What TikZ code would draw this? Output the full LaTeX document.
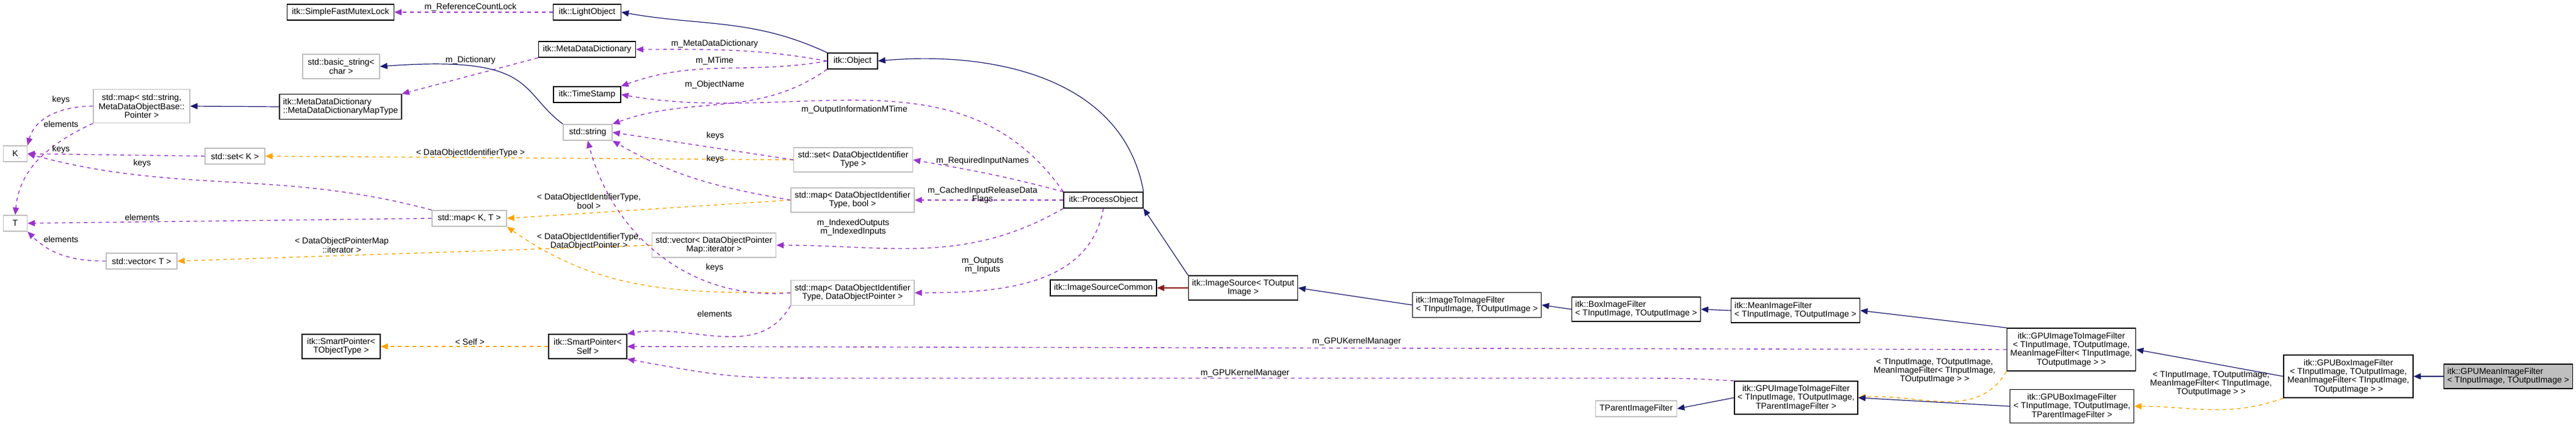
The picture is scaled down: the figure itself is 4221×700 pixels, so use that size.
\documentclass[tikz,border=0pt]{standalone}
\usepackage{fontspec}
\setmainfont{Liberation Sans}
\usetikzlibrary{arrows.meta}
\definecolor{inh}{HTML}{191970}
\definecolor{use}{HTML}{9A32CD}
\definecolor{tpl}{HTML}{FFA500}
\definecolor{prv}{HTML}{8B1A1A}
\definecolor{gb}{HTML}{BFBFBF}
\tikzset{
 bx/.style={draw=black,line width=0.7pt,fill=white,align=center,inner sep=1pt,font=\fontsize{7}{7.2}\selectfont},
 gbx/.style={bx,draw=gb},
 lbl/.style={align=center,font=\fontsize{7}{7.2}\selectfont,inner sep=0pt},
 ah/.style={-{Triangle[length=6pt,width=5pt]}},
 inhe/.style={ah,draw=inh,line width=0.6pt},
 usee/.style={ah,draw=use,line width=0.7pt,dash pattern=on 3pt off 3pt},
 tple/.style={ah,draw=tpl,line width=0.7pt,dash pattern=on 3pt off 3pt},
 prve/.style={ah,draw=prv,line width=0.7pt},
}
\begin{document}
\begin{tikzpicture}[x=0.5pt,y=-0.5pt]
\useasboundingbox (0,0) rectangle (4221,700);
% nodes
\node[bx,minimum width=87.5pt,minimum height=13pt] (mutex) at (558,20) {itk::SimpleFastMutexLock};
\node[gbx,minimum width=63pt,minimum height=20pt] (bstr) at (559,109) {std::basic\_string<\\ char >};
\node[bx,minimum width=100pt,minimum height=20.5pt,align=left] (maptype) at (558,175) {itk::MetaDataDictionary\\::MetaDataDictionaryMapType};
\node[gbx,minimum width=79pt,minimum height=27.5pt] (mapstr) at (232,174) {std::map< std::string,\\ MetaDataObjectBase::\\Pointer >};
\node[gbx,minimum width=19.5pt,minimum height=13pt] (K) at (25,252) {K};
\node[gbx,minimum width=19.5pt,minimum height=13pt] (T) at (25,366) {T};
\node[gbx,minimum width=49pt,minimum height=13pt] (setK) at (385,256) {std::set< K >};
\node[gbx,minimum width=58pt,minimum height=13pt] (vecT) at (232,428) {std::vector< T >};
\node[gbx,minimum width=61pt,minimum height=13pt] (mapKT) at (769,358) {std::map< K, T >};
\node[bx,minimum width=64pt,minimum height=20pt] (spT) at (559,568) {itk::SmartPointer<\\ TObjectType >};
\node[bx,minimum width=64pt,minimum height=20pt] (spS) at (963,568) {itk::SmartPointer<\\ Self >};
\node[bx,minimum width=55.5pt,minimum height=13pt] (light) at (962,20) {itk::LightObject};
\node[bx,minimum width=79.5pt,minimum height=13pt] (mdd) at (962,81) {itk::MetaDataDictionary};
\node[bx,minimum width=55pt,minimum height=13pt] (ts) at (962,155) {itk::TimeStamp};
\node[gbx,minimum width=40pt,minimum height=13pt] (str) at (963,217) {std::string};
\node[bx,minimum width=41pt,minimum height=13pt] (obj) at (1397,100) {itk::Object};
\node[gbx,minimum width=97.5pt,minimum height=20pt] (setD) at (1398,262) {std::set< DataObjectIdentifier\\ Type >};
\node[gbx,minimum width=101pt,minimum height=20pt] (mapDb) at (1397,328) {std::map< DataObjectIdentifier\\ Type, bool >};
\node[gbx,minimum width=101.5pt,minimum height=20pt] (vecD) at (1170,402) {std::vector< DataObjectPointer\\ Map::iterator >};
\node[gbx,minimum width=101pt,minimum height=20.5pt] (mapDP) at (1397,480) {std::map< DataObjectIdentifier\\ Type, DataObjectPointer >};
\node[bx,minimum width=65pt,minimum height=13pt] (po) at (1808,328) {itk::ProcessObject};
\node[bx,minimum width=87pt,minimum height=13pt] (isc) at (1808,472) {itk::ImageSourceCommon};
\node[bx,minimum width=89.5pt,minimum height=20pt] (is) at (2037,472) {itk::ImageSource< TOutput\\ Image >};
\node[bx,minimum width=105.5pt,minimum height=20.5pt,align=left] (itif) at (2420,500) {itk::ImageToImageFilter\\< TInputImage, TOutputImage >};
\node[bx,minimum width=105.5pt,minimum height=20pt,align=left] (box) at (2681,507) {itk::BoxImageFilter\\< TInputImage, TOutputImage >};
\node[bx,minimum width=105.5pt,minimum height=20pt,align=left] (mean) at (2942,509) {itk::MeanImageFilter\\< TInputImage, TOutputImage >};
\node[bx,minimum width=101pt,minimum height=27pt] (gpuT) at (2943,652) {itk::GPUImageToImageFilter\\< TInputImage, TOutputImage,\\ TParentImageFilter >};
\node[gbx,minimum width=66.5pt,minimum height=13pt] (tpar) at (2681,670) {TParentImageFilter};
\node[bx,minimum width=105.5pt,minimum height=35pt] (gpuM) at (3394,573) {itk::GPUImageToImageFilter\\< TInputImage, TOutputImage,\\ MeanImageFilter< TInputImage,\\ TOutputImage > >};
\node[bx,minimum width=101.5pt,minimum height=27.5pt] (gboxT) at (3395,666) {itk::GPUBoxImageFilter\\< TInputImage, TOutputImage,\\ TParentImageFilter >};
\node[bx,minimum width=106pt,minimum height=35pt] (gboxM) at (3848,617) {itk::GPUBoxImageFilter\\< TInputImage, TOutputImage,\\ MeanImageFilter< TInputImage,\\ TOutputImage > >};
\node[bx,fill=gb,minimum width=105.5pt,minimum height=20pt,align=left] (gmean) at (4110,617) {itk::GPUMeanImageFilter\\< TInputImage, TOutputImage >};
% edges
\draw[usee] (light.west) -- (mutex.east);
\draw[inhe] (obj.north west) to[out=155,in=-10] (light.east);
\draw[usee] (obj.west) to[out=170,in=0] (mdd.east);
\draw[usee] (obj.west) to[out=190,in=20] (ts.north east);
\draw[usee] (obj.south west) to[out=215,in=20] (str.north east);
\draw[usee] (mdd.south west) -- (maptype.north east);
\draw[inhe] (str.north west) .. controls (850,150) and (880,90) .. (bstr.east);
\draw[inhe] (maptype.west) -- (mapstr.east);
\draw[usee] (mapstr.west) to[out=180,in=75] (K.north east);
\draw[usee] (mapstr.south west) to[out=205,in=85] (T.north);
\draw[usee] (setK.west) -- (K.east);
\draw[usee] (mapKT.north west) to[out=165,in=-15] (K.east);
\draw[usee] (mapKT.west) -- (T.east);
\draw[usee] (vecT.west) to[out=180,in=-45] (T.south east);
\draw[tple] (setD.west) -- (setK.east);
\draw[tple] (mapDb.west) -- (mapKT.east);
\draw[tple] (mapDP.west) to[out=180,in=-35] (mapKT.south east);
\draw[tple] (vecD.west) -- (vecT.east);
\draw[usee] (setD.west) -- (str.east);
\draw[usee] (mapDb.west) to[out=170,in=-30] (str.south east);
\draw[usee] (mapDP.west) to[out=185,in=-75] (str.south);
\draw[usee] (po.north west) to[out=125,in=-10] (ts.east);
\draw[usee] (po.north west) to[out=165,in=-10] (setD.east);
\draw[usee] (po.west) -- (mapDb.east);
\draw[usee] (po.south west) to[out=210,in=0] (vecD.east);
\draw[usee] (po.south) to[out=-100,in=0] (mapDP.east);
\draw[inhe] (po.north east) to[out=100,in=5] (obj.east);
\draw[usee] (mapDP.south west) to[out=240,in=10] (spS.north east);
\draw[tple] (spS.west) -- (spT.east);
\draw[inhe] (is.north west) -- (po.south east);
\draw[prve] (is.west) -- (isc.east);
\draw[inhe] (itif.west) -- (is.east);
\draw[inhe] (box.west) -- (itif.east);
\draw[inhe] (mean.west) -- (box.east);
\draw[inhe] (gpuM.north west) -- (mean.east);
\draw[usee] (gpuM.west) -- (spS.east);
\draw[usee] (gpuT.north west) .. controls (2760,620) .. (2650,620) -- (1400,620) .. controls (1200,620) .. (spS.south east);
\draw[inhe] (gpuT.west) -- (tpar.east);
\draw[tple] (gpuM.south west) to[out=-120,in=5] (gpuT.east);
\draw[inhe] (gboxT.west) -- (gpuT.east);
\draw[inhe] (gboxM.west) -- (gpuM.east);
\draw[tple] (gboxM.south west) to[out=200,in=0] (gboxT.east);
\draw[inhe] (gmean.west) -- (gboxM.east);
% labels
\node[lbl] (l1) at (771,12) {m\_ReferenceCountLock};
\node[lbl] (l2) at (771,99) {m\_Dictionary};
\node[lbl] (l3) at (1171,72) {m\_MetaDataDictionary};
\node[lbl] (l4) at (1171,100) {m\_MTime};
\node[lbl] (l5) at (1171,139) {m\_ObjectName};
\node[lbl] (l6) at (1400,180) {m\_OutputInformationMTime};
\node[lbl] (l7) at (1172,223) {keys};
\node[lbl] (l8) at (1172,261) {keys};
\node[lbl] (l9) at (1171,439) {keys};
\node[lbl] (l10) at (1610,264) {m\_RequiredInputNames};
\node[lbl] (l11) at (1610,320) {m\_CachedInputReleaseData\\Flags};
\node[lbl] (l12) at (1398,373) {m\_IndexedOutputs\\m\_IndexedInputs};
\node[lbl] (l13) at (1610,435) {m\_Outputs\\m\_Inputs};
\node[lbl] (l14) at (1171,514) {elements};
\node[lbl] (l15) at (771,251) {< DataObjectIdentifierType >};
\node[lbl] (l16) at (965,330) {< DataObjectIdentifierType,\\bool >};
\node[lbl] (l17) at (965,396) {< DataObjectIdentifierType,\\DataObjectPointer >};
\node[lbl] (l18) at (560,402) {< DataObjectPointerMap\\::iterator >};
\node[lbl] (l19) at (770,560) {< Self >};
\node[lbl] (l20) at (100,164) {keys};
\node[lbl] (l21) at (100,203) {elements};
\node[lbl] (l22) at (100,245) {keys};
\node[lbl] (l23) at (233,268) {keys};
\node[lbl] (l24) at (233,356) {elements};
\node[lbl] (l25) at (100,392) {elements};
\node[lbl] (l26) at (2223,560) {m\_GPUKernelManager};
\node[lbl] (l27) at (2040,612) {m\_GPUKernelManager};
\node[lbl] (l28) at (3170,608) {< TInputImage, TOutputImage,\\MeanImageFilter< TInputImage,\\TOutputImage > >};
\node[lbl] (l29) at (3623,629) {< TInputImage, TOutputImage,\\MeanImageFilter< TInputImage,\\TOutputImage > >};
\end{tikzpicture}
\end{document}
